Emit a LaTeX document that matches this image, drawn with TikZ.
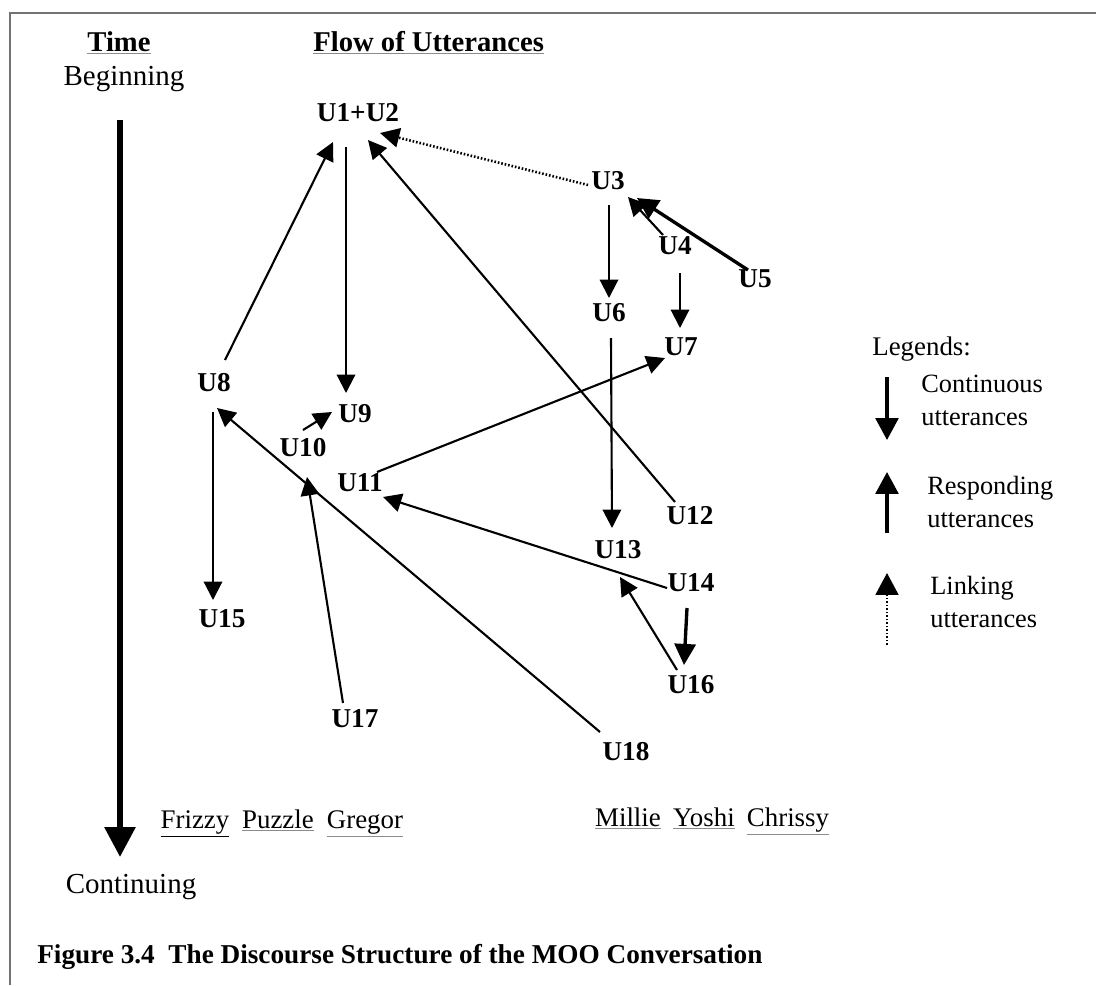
\documentclass[tikz,border=0pt]{standalone}
\usepackage{fontspec}
\setmainfont{Liberation Serif}
\usetikzlibrary{arrows.meta,calc}

% underline drawn in grey, text kept black
\newcommand{\greyul}[1]{{\color{black!45}\underline{\color{black}#1}}}

\begin{document}
\begin{tikzpicture}[x=0.02cm, y=-0.02cm,
    utt/.style={font=\bfseries\fontsize{15.5}{18}\selectfont, inner sep=0pt},
    lbl/.style={font=\fontsize{15.3}{18}\selectfont, inner sep=0pt},
    axis/.style={font=\fontsize{16.5}{19}\selectfont, inner sep=0pt},
    hdr/.style={font=\bfseries\fontsize{16.3}{19}\selectfont, inner sep=0pt},
    legtxt/.style={font=\fontsize{15}{18.7}\selectfont, inner sep=0pt, align=left, anchor=west},
    flow/.style={line width=1.2pt, -{Triangle[width=10.5pt,length=10.5pt]}},
    heavy/.style={line width=1.9pt, -{Triangle[width=12pt,length=12pt]}},
    linking/.style={line width=1.5pt, dash pattern=on 0.9pt off 1.1pt, -{Triangle[width=11pt,length=11pt]}},
    legarrow/.style={line width=1.8pt, -{Triangle[width=13pt,length=12.5pt]}}]

  \useasboundingbox (0,0) rectangle (1096,985);

  %	Frame (top and left edge)
  \draw[black!55, line width=1.4pt] (10,985) -- (10,13) -- (1096,13);

  %	Headings
  \node[hdr, anchor=base] (time) at (119,51) {\greyul{Time}};
  \node[hdr, anchor=base west] (flowhead) at (313,51) {\greyul{Flow of Utterances}};

  %	Time axis
  \node[axis, anchor=base] (beg) at (124,85) {Beginning};
  \node[axis, anchor=base] (cnt) at (131,893) {Continuing};
  \draw[line width=3.4pt, -{Triangle[width=17pt,length=17pt]}] ($(beg.base)+(-4,35)$) -- ($(cnt.base)+(-11,-36)$);

  %	Utterances
  \node[utt] (u1) at (358,113) {U1+U2};
  \node[utt] (u3) at (608,181) {U3};
  \node[utt] (u4) at (675,246) {U4};
  \node[utt] (u5) at (755,279) {U5};
  \node[utt] (u6) at (609,313) {U6};
  \node[utt] (u7) at (681,347) {U7};
  \node[utt] (u8) at (214,383) {U8};
  \node[utt] (u9) at (355,414) {U9};
  \node[utt] (u10) at (303,448) {U10};
  \node[utt] (u11) at (360,483) {U11};
  \node[utt] (u12) at (690,516) {U12};
  \node[utt] (u13) at (618,550) {U13};
  \node[utt] (u14) at (691,583) {U14};
  \node[utt] (u15) at (222,619) {U15};
  \node[utt] (u16) at (691,685) {U16};
  \node[utt] (u17) at (355,719) {U17};
  \node[utt] (u18) at (626,752) {U18};

  %	Continuous utterances
  \draw[flow] ($(u1)+(-12,34)$) -- ($(u9)+(-9,-21)$);
  \draw[flow] ($(u3)+(1,24)$) -- ($(u6)+(0,-15)$);
  \draw[flow] ($(u4)+(5,27)$) -- ($(u7)+(-1,-19)$);
  \draw[flow] ($(u6)+(2,25)$) -- ($(u13)+(-6,-22)$);
  \draw[flow] ($(u8)+(-1,29)$) -- ($(u15)+(-9,-19)$);
  \draw[heavy] ($(u14)+(-4,25)$) -- ($(u16)+(-7,-20)$);

  %	Responding utterances
  \draw[flow] ($(u8)+(11,-23)$) -- ($(u1)+(-25,29)$);
  \draw[flow] ($(u12)+(-15,-14)$) -- ($(u1)+(10,27)$);
  \draw[flow] ($(u4)+(-12,-11)$) -- ($(u3)+(20,16)$);
  \draw[heavy] ($(u5)+(-7,-9)$) -- ($(u3)+(29,17)$);
  \draw[flow] ($(u11)+(17,-11)$) -- ($(u7)+(-16,11)$);
  \draw[flow] ($(u10)+(0,-18)$) -- ($(u9)+(-23,-2)$);
  \draw[flow] ($(u18)+(-26,-20)$) -- ($(u8)+(3,25)$);
  \draw[flow] ($(u17)+(-12,-16)$) -- ($(u10)+(4,29)$);
  \draw[flow] ($(u14)+(-24,5)$) -- ($(u11)+(23,14)$);
  \draw[flow] ($(u16)+(-14,-15)$) -- ($(u13)+(2,27)$);

  %	Linking utterance
  \draw[linking] ($(u3)+(-20,4)$) -- ($(u1)+(22,20)$);

  %	Participants
  \node[lbl, anchor=base] (frizzy) at (195,828) {\underline{Frizzy}};
  \node[lbl, anchor=base] (puzzle) at (278,828) {\greyul{Puzzle}};
  \node[lbl, anchor=base] (gregor) at (365,828) {\greyul{Gregor}};
  \node[lbl, anchor=base] (millie) at (628,826) {\greyul{Millie}};
  \node[lbl, anchor=base] (yoshi) at (704,826) {\greyul{Yoshi}};
  \node[lbl, anchor=base] (chrissy) at (788,826) {\greyul{Chrissy}};

  %	Legend
  \node[lbl, anchor=base west] (legend) at (872,355) {Legends:};
  \node[legtxt] (lcont) at (921,400) {Continuous\\utterances};
  \node[legtxt] (lresp) at (927,502) {Responding\\utterances};
  \node[legtxt] (llink) at (930,602) {Linking\\utterances};
  \draw[legarrow] ($(lcont.west)+(-34,-23)$) -- ($(lcont.west)+(-34,40)$);
  \draw[legarrow] ($(lresp.west)+(-40,31)$) -- ($(lresp.west)+(-40,-30)$);
  \draw[line width=1.4pt, dash pattern=on 0.9pt off 1.1pt, -{Triangle[width=13pt,length=12.5pt]}] ($(llink.west)+(-43,43)$) -- ($(llink.west)+(-43,-29)$);

  %	Caption
  \node[font=\bfseries\fontsize{15.5}{18}\selectfont, inner sep=0pt, anchor=base west] (caption) at (37,963) {Figure 3.4\ \ The Discourse Structure of the MOO Conversation};
\end{tikzpicture}
\end{document}
